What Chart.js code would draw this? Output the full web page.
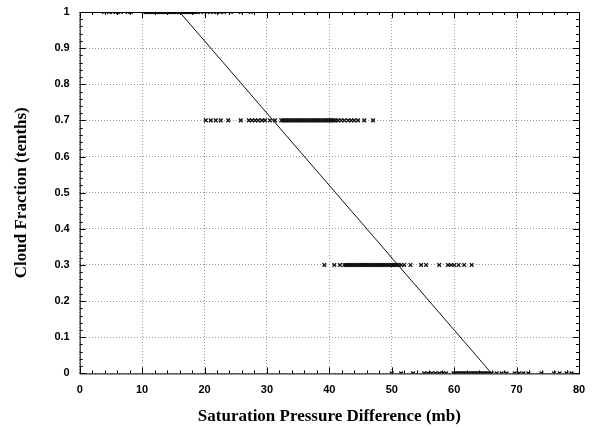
<!DOCTYPE html>
<html>
<head>
<meta charset="utf-8">
<script src="https://cdn.jsdelivr.net/npm/chart.js@4/dist/chart.umd.min.js"></script>
<style>
  html, body { margin: 0; padding: 0; background: #fff; }
  #wrap { width: 597px; height: 427px; }
</style>
</head>
<body>
<div id="wrap"><canvas id="c" width="597" height="427"></canvas></div>
<script>
// Cloud fraction vs saturation pressure difference (scatter + fitted line)

// x positions (mb) of observations in each cloud-fraction class
const xAtTen = [3.9, 4.7, 5.3, 6.1, 6.6, 7.7, 8.2, 10.3, 10.6, 10.8, 11.0, 11.2, 11.4, 11.6, 11.8, 12.0,
  12.2, 12.4, 12.6, 12.8, 13.0, 13.2, 13.4, 13.6, 13.8, 14.0, 14.2, 14.4, 14.6, 14.8, 15.0, 15.2,
  15.4, 15.6, 15.8, 16.0, 16.2, 16.4, 16.6, 16.8, 17.0, 17.2, 17.4, 17.6, 17.8, 18.0, 18.2, 18.4,
  18.6, 18.9, 19.4, 19.9, 20.4, 20.9, 21.4, 22.0, 22.5, 23.1, 24.2, 25.8, 27.4];
const xAtSeven = [20.2, 21.0, 21.8, 22.6, 23.8, 25.8, 27.1, 27.6, 28.1, 28.6, 29.2, 29.7, 30.5, 31.3,
  32.3, 32.6, 32.9, 33.2, 33.5, 33.8, 34.1, 34.4, 34.7, 35.0, 35.3, 35.6, 35.9, 36.2, 36.5, 36.8,
  37.1, 37.4, 37.7, 38.0, 38.3, 38.6, 38.9, 39.2, 39.5, 39.8, 40.1, 40.4, 40.7, 41.0, 41.4, 41.9,
  42.4, 43.0, 43.5, 44.0, 44.6, 45.6, 47.0];
const xAtThree = [39.2, 40.8, 41.7, 42.4, 42.7, 43.0, 43.3, 43.6, 43.9, 44.2, 44.5, 44.8, 45.1, 45.4,
  45.7, 46.0, 46.3, 46.6, 46.9, 47.2, 47.5, 47.8, 48.1, 48.4, 48.7, 49.0, 49.3, 49.6, 49.9, 50.2,
  50.5, 50.8, 51.1, 51.5, 52.0, 53.0, 54.7, 55.5, 57.6, 59.0, 59.5, 60.0, 60.7, 61.6, 62.8];
const xAtZero = [50.0, 51.5, 53.4, 55.2, 55.8, 56.4, 57.0, 57.6, 58.2, 58.7, 59.9, 60.2, 60.5, 60.8,
  61.1, 61.4, 61.7, 62.0, 62.3, 62.6, 62.9, 63.2, 63.5, 63.8, 64.1, 64.4, 64.7, 65.0, 65.3, 65.6,
  66.0, 66.8, 67.6, 68.4, 69.7, 70.4, 71.1, 71.9, 74.0, 76.0, 76.9, 78.0, 78.8];

const fitX = [16, 66];
const fitY = [1, 0];

const xTicks = [0, 10, 20, 30, 40, 50, 60, 70, 80];
const yTicks = [0, 0.1, 0.2, 0.3, 0.4, 0.5, 0.6, 0.7, 0.8, 0.9, 1];

const pts = (xs, y) => xs.map(x => ({ x, y }));

const points = [].concat(
  pts(xAtTen, 1), pts(xAtSeven, 0.7), pts(xAtThree, 0.3), pts(xAtZero, 0)
);

// frame + small inward tick marks
const frame = {
  id: "frame",
  afterDatasetsDraw(chart) {
    const { ctx, chartArea: a, scales } = chart;
    ctx.save();
    ctx.strokeStyle = "#000";
    ctx.lineWidth = 1;
    ctx.strokeRect(a.left + 0.5, a.top + 0.5, a.right - a.left, a.bottom - a.top);
    ctx.beginPath();
    for (let v = 0; v <= 80; v += 2) {
      const px = Math.round(scales.x.getPixelForValue(v)) + 0.5;
      const len = v % 10 === 0 ? 6 : 3;
      ctx.moveTo(px, a.bottom); ctx.lineTo(px, a.bottom - len);
      ctx.moveTo(px, a.top); ctx.lineTo(px, a.top + len);
    }
    for (let i = 0; i <= 50; i++) {
      const v = i * 0.02;
      const py = Math.round(scales.y.getPixelForValue(v)) + 0.5;
      const len = i % 5 === 0 ? 6 : 3;
      ctx.moveTo(a.left, py); ctx.lineTo(a.left + len, py);
      ctx.moveTo(a.right, py); ctx.lineTo(a.right - len, py);
    }
    ctx.stroke();
    ctx.restore();
  }
};

const tickFont = { family: "Liberation Sans", weight: "bold", size: 11 };
const titleFont = { family: "Liberation Serif", weight: "bold", size: 17 };

new Chart(document.getElementById("c"), {
  type: "scatter",
  data: {
    datasets: [
      {
        label: "Observations",
        data: points,
        pointStyle: "crossRot",
        pointRadius: 2.6,
        borderColor: "#111",
        borderWidth: 1.3,
        backgroundColor: "#111"
      },
      {
        label: "Fit",
        type: "line",
        data: fitX.map((x, i) => ({ x, y: fitY[i] })),
        borderColor: "#111",
        borderWidth: 1,
        pointRadius: 0,
        fill: false
      }
    ]
  },
  options: {
    responsive: false,
    animation: false,
    layout: { padding: { top: 12, right: 18, left: 7, bottom: 0 } },
    plugins: { legend: { display: false }, tooltip: { enabled: false } },
    scales: {
      x: {
        type: "linear",
        min: 0, max: 80,
        afterBuildTicks: s => { s.ticks = xTicks.map(v => ({ value: v })); },
        grid: { color: "#999", lineWidth: 1, drawTicks: false },
        border: { display: false, dash: [1, 2] },
        ticks: { color: "#000", padding: 10, font: tickFont, callback: v => String(v) },
        title: {
          display: true,
          text: "Saturation Pressure Difference (mb)",
          color: "#000",
          padding: { top: 0, bottom: 0 },
          font: titleFont
        }
      },
      y: {
        min: 0, max: 1,
        afterBuildTicks: s => { s.ticks = yTicks.map(v => ({ value: v })); },
        afterFit: s => { s.paddingTop = 0; },
        grid: { color: "#999", lineWidth: 1, drawTicks: false },
        border: { display: false, dash: [1, 2] },
        ticks: { color: "#000", padding: 10, font: tickFont, callback: v => String(Math.round(v * 10) / 10) },
        title: {
          display: true,
          text: "Cloud Fraction (tenths)",
          color: "#000",
          padding: { bottom: 13 },
          font: titleFont
        }
      }
    }
  },
  plugins: [frame]
});
</script>
</body>
</html>
